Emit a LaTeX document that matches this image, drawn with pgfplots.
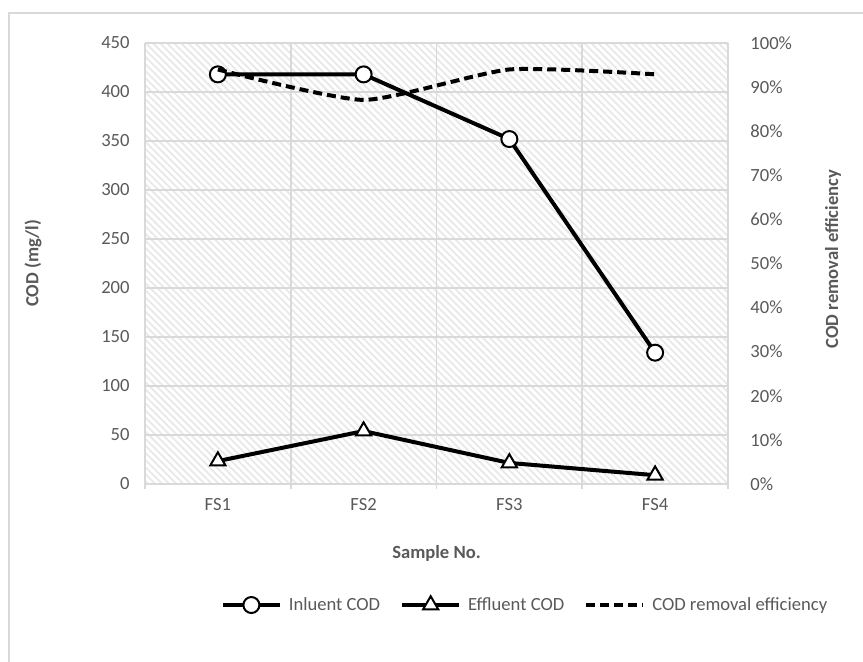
\documentclass[border=0pt]{standalone}
\usepackage{fontspec}
\setmainfont{Carlito}
\usepackage{pgfplots}
\pgfplotsset{compat=1.18}
\usetikzlibrary{patterns.meta}
\definecolor{txt}{HTML}{595959}
\definecolor{grd}{HTML}{D9D9D9}
\definecolor{hatch}{HTML}{E8E8E8}
\begin{document}
\fontsize{9.3}{11}\selectfont
\begin{tikzpicture}
\useasboundingbox (-72.5pt,-88.5pt) rectangle (359pt,242pt);
\draw[grd, line width=0.75pt] (-68pt,-95pt) -- (-68pt,235.5pt) -- (365pt,235.5pt);
\begin{axis}[
  scale only axis, width=291.5pt, height=220.5pt,
  at={(0pt,0pt)}, anchor=south west,
  xmin=-0.5, xmax=3.5, ymin=0, ymax=450,
  axis background/.style={pattern={Lines[angle=-45,distance=2.5pt,line width=0.9pt]}, pattern color=hatch},
  xtick={0,1,2,3}, xticklabels={FS1,FS2,FS3,FS4},
  minor xtick={-0.5,0.5,1.5,2.5,3.5},
  xminorgrids=true,
  ytick={0,50,...,450},
  yticklabels={0,50,100,150,200,250,300,350,400,450},
  ymajorgrids=true,
  grid style={grd, line width=0.9pt},
  minor grid style={grd, line width=0.9pt},
  axis line style={draw=none},
  major tick length=0pt, minor tick length=2.5pt, tick align=outside,
  xtick pos=bottom, ytick pos=left,
  minor tick style={grd, line width=0.9pt},
  /pgf/number format/assume math mode=true,
  tick label style={font=\fontsize{9.3}{11}\selectfont, text=txt},
  xticklabel style={anchor=center, yshift=-10.5pt},
  yticklabel style={anchor=east, inner sep=0pt, xshift=-7.5pt},
  xlabel={Sample No.}, ylabel={COD (mg/l)},
  every axis x label/.style={at={(axis description cs:0.5,-0.1565)}, anchor=center, font=\fontsize{9.3}{11}\selectfont\bfseries, text=txt},
  every axis y label/.style={at={(axis description cs:-0.1921,0.5)}, anchor=center, rotate=90, font=\fontsize{9.3}{11}\selectfont\bfseries, text=txt},
]
\addplot[black, line width=2pt, mark=*, mark size=4pt, mark options={fill=white, draw=black, line width=1pt}] coordinates {(0,418) (1,418) (2,352) (3,134)};
\addplot[black, line width=2pt, mark=triangle*, mark size=4.4pt, mark options={fill=white, draw=black, line width=1pt}] coordinates {(0,23.4) (1,54) (2,21.5) (3,9)};
\end{axis}
\begin{axis}[
  scale only axis, width=291.5pt, height=220.5pt,
  at={(0pt,0pt)}, anchor=south west,
  xmin=-0.5, xmax=3.5, ymin=0, ymax=100,
  axis x line=none, axis y line*=right,
  y axis line style={draw=none},
  ytick={0,10,...,100},
  yticklabels={0\%,10\%,20\%,30\%,40\%,50\%,60\%,70\%,80\%,90\%,100\%},
  major tick length=0pt,
  /pgf/number format/assume math mode=true,
  tick label style={font=\fontsize{9.3}{11}\selectfont, text=txt},
  yticklabel style={anchor=west, inner sep=0pt, xshift=11pt},
  ylabel={COD removal efficiency},
  every axis y label/.style={at={(axis description cs:1.1801,0.51)}, anchor=center, rotate=90, font=\fontsize{9.3}{11}\selectfont\bfseries, text=txt},
  legend columns=3,
  legend image code/.code={\draw[mark repeat=2,mark phase=2,#1] plot coordinates {(0pt,0pt) (14.25pt,0pt) (28.5pt,0pt)};},
  legend style={draw=none, fill=none, at={(0.6527,-0.2744)}, anchor=center,
    /tikz/every odd column/.append style={column sep=2pt},
    /tikz/every even column/.append style={column sep=8.5pt},
    nodes={inner sep=1.5pt, text=txt, font=\fontsize{9.3}{11}\selectfont}},
]
\addlegendimage{black, line width=2pt, mark=*, mark size=4pt, mark options={fill=white, draw=black, line width=1pt}}
\addlegendentry{Inluent COD}
\addlegendimage{black, line width=2pt, mark=triangle*, mark size=4.4pt, mark options={fill=white, draw=black, line width=1pt}}
\addlegendentry{Effluent COD}
\addplot[black, line width=2pt, dash pattern=on 4.5pt off 2.5pt, smooth, tension=0.35] coordinates {(0,94.0) (1,87.1) (2,94.0) (3,92.9)};
\addlegendentry{COD removal efficiency}
\end{axis}
\end{tikzpicture}
\end{document}
